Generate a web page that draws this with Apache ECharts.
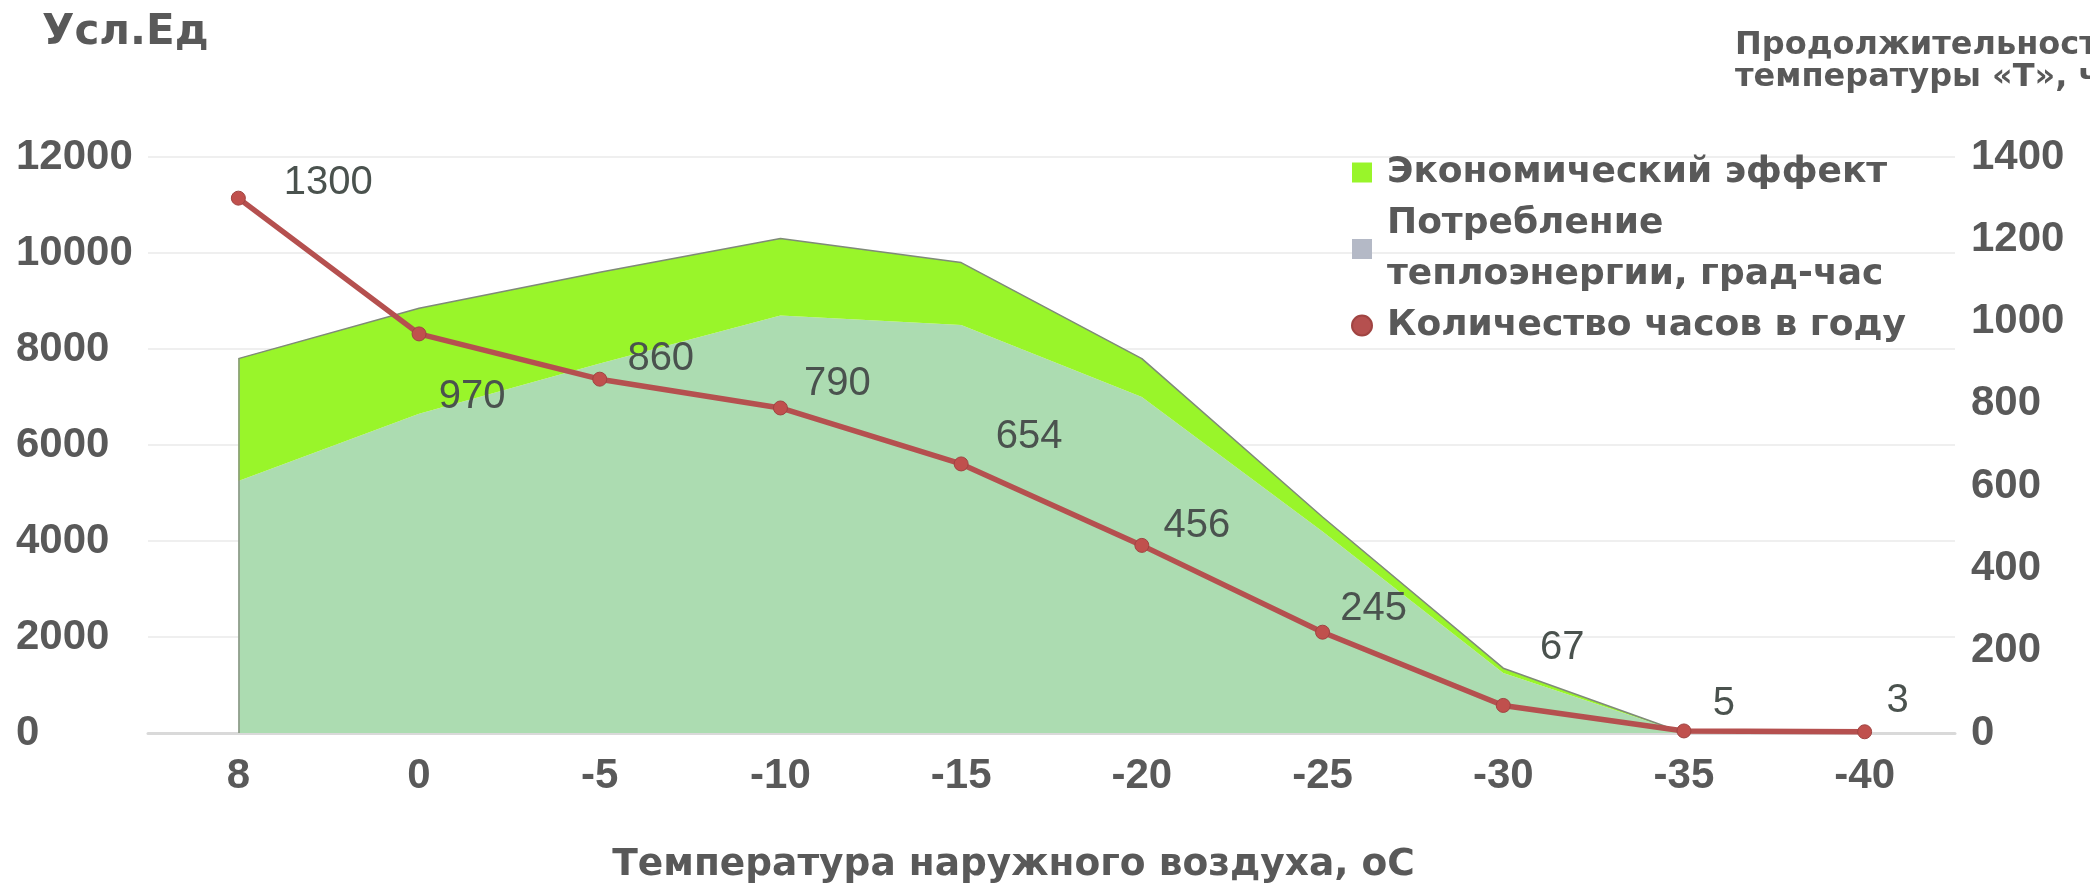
<!DOCTYPE html>
<html>
<head>
<meta charset="utf-8">
<script src="https://cdn.jsdelivr.net/npm/echarts@6/dist/echarts.min.js"></script>
<style>
html,body{margin:0;padding:0;background:#fff;}
#c{width:2090px;height:886px;}
</style>
</head>
<body>
<div id="c"></div>
<script>
// ---- data ----
const categories = ['8', '0', '-5', '-10', '-15', '-20', '-25', '-30', '-35', '-40'];
const consumption = [5250, 6650, 7700, 8700, 8500, 7000, 4200, 1250, 0, null];
const effect = [2550, 2200, 1900, 1600, 1300, 800, 300, 100, 0, null];
const hours = [1300, 970, 860, 790, 654, 456, 245, 67, 5, 3];
const leftTicks = [0, 12000, 2000];
const rightTicks = [0, 1400, 200];

const names = {
  effect: 'Экономический эффект',
  consumption: 'Потребление теплоэнергии, град-час',
  hours: 'Количество часов в году'
};
const yLeftName = 'Усл.Ед';
const yRightName = 'Продолжительность\nтемпературы «Т», час';
const xName = 'Температура наружного воздуха, оС';

// label offsets (style only)
const labelOffsets = [[90,-15],[53,63],[61,-20],[57,-24],[68,-27],[55,-19],[51,-23],[59,-57],[40,-27],[33,-31]];

const NUM = "'Liberation Sans', Arial, sans-serif";
const TXTF = "'DejaVu Sans', sans-serif";
const TXT = '#595959';

const chart = echarts.init(document.getElementById('c'), null, {renderer: 'canvas'});
chart.setOption({
  backgroundColor: '#ffffff',
  animation: false,
  title: [
    {text: yLeftName, left: 42, top: 12, padding: 0,
     textStyle: {fontFamily: TXTF, fontSize: 42, fontWeight: 'bold', color: TXT}},
    {text: yRightName, left: 1735, top: 30, padding: 0,
     textStyle: {fontFamily: TXTF, fontSize: 32, fontWeight: 'bold', color: TXT, lineHeight: 32}}
  ],
  grid: {left: 148, right: 135, top: 157, bottom: 153, containLabel: false, outerBoundsMode: 'none'},
  legend: {
    orient: 'vertical',
    left: 1351,
    top: 147,
    padding: 0,
    itemWidth: 20,
    itemHeight: 20,
    itemGap: 0,
    textStyle: {fontFamily: TXTF, fontSize: 36, fontWeight: 'bold', color: TXT, lineHeight: 51, padding: [0,0,0,10]},
    formatter: function(n){ return n === names.consumption ? 'Потребление\nтеплоэнергии, град-час' : n; },
    data: [
      {name: names.effect, icon: 'rect', itemStyle: {color: '#99f52a'}},
      {name: names.consumption, icon: 'rect', itemStyle: {color: '#b4b9c6'}},
      {name: names.hours, icon: 'circle', itemStyle: {color: '#b5504f'}}
    ]
  },
  xAxis: {
    type: 'category',
    data: categories,
    boundaryGap: true,
    name: xName,
    nameLocation: 'middle',
    nameGap: 113,
    nameTextStyle: {fontFamily: TXTF, fontSize: 37.5, fontWeight: 'bold', color: TXT, padding: [0, 76, 0, 0]},
    axisLine: {show: true, lineStyle: {color: '#d9d9d9', width: 3}},
    axisTick: {show: false},
    axisLabel: {fontFamily: NUM, fontSize: 42, fontWeight: 'bold', color: TXT, margin: 22}
  },
  yAxis: [
    {
      type: 'value',
      min: leftTicks[0], max: leftTicks[1], interval: leftTicks[2],
      axisLine: {show: false},
      axisTick: {show: false},
      axisLabel: {fontFamily: NUM, fontSize: 42, fontWeight: 'bold', color: TXT, align: 'left', margin: 132,
                  formatter: v => String(v)},
      splitLine: {show: true, lineStyle: {color: '#efefef', width: 2}}
    },
    {
      type: 'value',
      min: rightTicks[0], max: rightTicks[1], interval: rightTicks[2],
      axisLine: {show: false},
      axisTick: {show: false},
      axisLabel: {fontFamily: NUM, fontSize: 42, fontWeight: 'bold', color: TXT, align: 'left', margin: 16,
                  formatter: v => String(v)},
      splitLine: {show: false}
    }
  ],
  series: [
    {
      name: names.consumption,
      type: 'line',
      stack: 'heat',
      yAxisIndex: 0,
      data: consumption,
      symbol: 'none',
      lineStyle: {width: 0},
      areaStyle: {color: '#acdcb1', opacity: 1},
      itemStyle: {color: '#acdcb1'},
      z: 1
    },
    {
      name: names.effect,
      type: 'line',
      stack: 'heat',
      yAxisIndex: 0,
      data: effect,
      symbol: 'none',
      lineStyle: {width: 1.5, color: '#7f8a78'},
      areaStyle: {color: '#99f52a', opacity: 1},
      itemStyle: {color: '#99f52a'},
      markLine: {
        silent: true,
        symbol: 'none',
        label: {show: false},
        lineStyle: {color: '#8a9284', width: 1.5, type: 'solid'},
        data: [[
          {coord: [categories[0], 0]},
          {coord: [categories[0], consumption[0] + effect[0]]}
        ]]
      },
      z: 1
    },
    {
      name: names.hours,
      type: 'line',
      yAxisIndex: 1,
      data: hours.map((v, i) => ({
        value: v,
        label: {offset: labelOffsets[i]}
      })),
      symbol: 'circle',
      symbolSize: 14,
      lineStyle: {width: 5.5, color: '#b5504f'},
      itemStyle: {color: '#c0504d', borderColor: '#a04442', borderWidth: 1},
      label: {
        show: true,
        position: 'inside',
        align: 'center',
        verticalAlign: 'middle',
        fontFamily: NUM,
        fontSize: 40,
        color: '#4a524e'
      },
      z: 5
    }
  ]
});
</script>
</body>
</html>
